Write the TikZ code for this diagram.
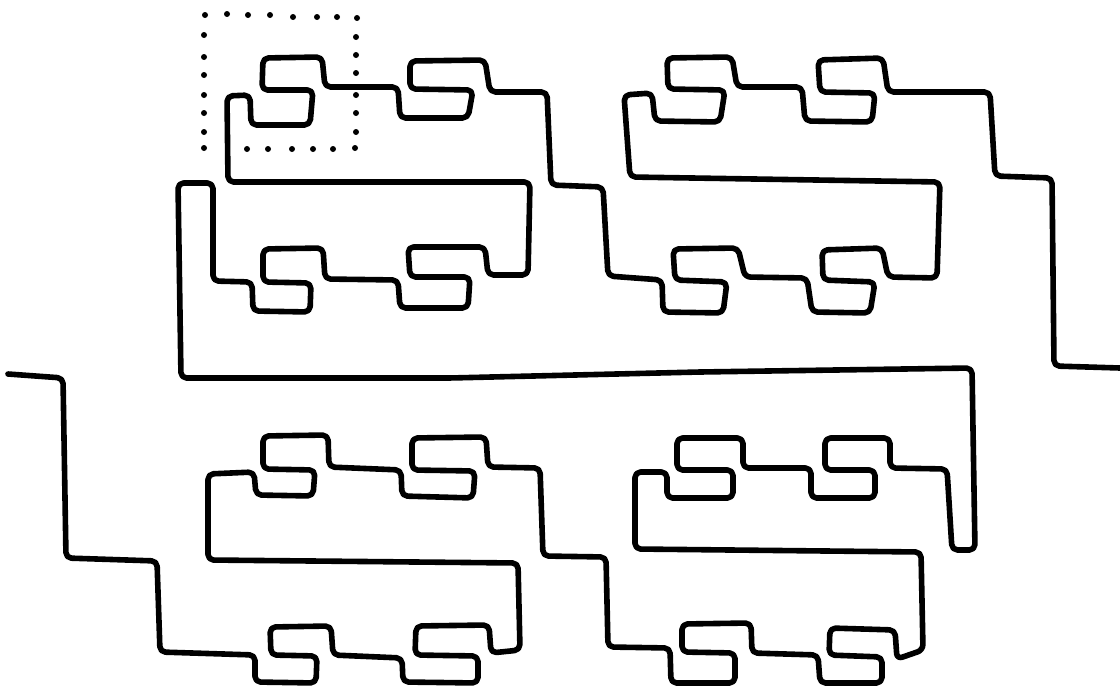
\documentclass[tikz,border=0pt]{standalone}
\begin{document}
\begin{tikzpicture}[x=1pt,y=-1pt,
  curve/.style={line width=5.6pt, rounded corners=5.5pt, line join=round, line cap=round},
  dotmark/.style={fill=black}]
\useasboundingbox (0,0) rectangle (1120,688);
\draw[curve] (8,374) -- (63,378) -- (66,558) -- (157,561) -- (160,652) -- (255,655)
 -- (255,682) -- (316,683) -- (317,656) -- (271,655) -- (270,627) -- (331,626) -- (333,655)
 -- (402,658) -- (403,682) -- (478,683) -- (478,656) -- (415,655) -- (416,626) -- (489,625) -- (491,653)
 -- (520,650) -- (518,563) -- (208,560) -- (208,474)
 -- (254,472) -- (256,495) -- (313,496) -- (315,470) -- (263,469) -- (263,436) -- (328,435) -- (329,467)
 -- (401,470) -- (402,496) -- (473,498) -- (475,471) -- (412,470) -- (412,438) -- (486,437) -- (488,467)
 -- (540,468) -- (543,556) -- (606,557) -- (608,647)
 -- (670,648) -- (671,683) -- (735,683) -- (735,653) -- (682,652) -- (682,624) -- (751,623) -- (752,653)
 -- (818,655) -- (820,683) -- (882,683) -- (882,657) -- (829,655) -- (830,628) -- (895,630) -- (897,659)
 -- (923,650) -- (921,552) -- (635,549) -- (635,472)
 -- (667,472) -- (667,498) -- (733,498) -- (733,470) -- (677,470) -- (677,438) -- (743,438) -- (743,468)
 -- (811,468) -- (811,498) -- (875,498) -- (875,470) -- (825,470) -- (825,438) -- (890,438) -- (890,468)
 -- (947,469) -- (952,550) -- (975,550) -- (972,368) -- (700,372) -- (450,378) -- (181,378)
 -- (178,183) -- (213,183) -- (213,281)
 -- (252,282) -- (253,311) -- (310,312) -- (311,283) -- (263,282) -- (263,249) -- (323,248) -- (325,279)
 -- (398,280) -- (400,308) -- (468,308) -- (470,277) -- (410,277) -- (408,247) -- (485,247) -- (488,275)
 -- (528,275) -- (530,182) -- (228,182) -- (227,96)
 -- (250,95) -- (251,125) -- (310,125) -- (313,90) -- (262,90) -- (263,58) -- (322,57) -- (325,87)
 -- (398,87) -- (400,118) -- (468,118) -- (473,90) -- (410,89) -- (410,61) -- (485,60) -- (490,92)
 -- (547,92) -- (551,185) -- (603,187) -- (608,276)
 -- (662,280) -- (663,312) -- (723,313) -- (727,282) -- (675,280) -- (673,249) -- (738,248) -- (745,277)
 -- (807,278) -- (812,312) -- (870,313) -- (875,282) -- (823,280) -- (822,250) -- (882,248) -- (888,277)
 -- (937,278) -- (940,182) -- (630,177) -- (624,95)
 -- (652,93) -- (655,121) -- (720,122) -- (725,90) -- (668,89) -- (667,58) -- (732,57) -- (737,87)
 -- (802,87) -- (805,121) -- (872,122) -- (875,93) -- (820,92) -- (818,60) -- (883,58) -- (888,92)
 -- (990,92) -- (995,176) -- (1052,178) -- (1054,366) -- (1120,368);
% dotted frame
\foreach \px/\py in {205/15,227/14,248/15,270/15,293/17,317/17,337/17,357/18,
  204/35,204/57,204/75,204/95,204/113,204/132,204/148,
  247/149,268/149,292/149,313/149,333/149,355/148,
  356/37,356/55,356/73,356/95,356/113,356/132}
  \fill[dotmark] (\px,\py) circle (3pt);
\end{tikzpicture}
\end{document}
